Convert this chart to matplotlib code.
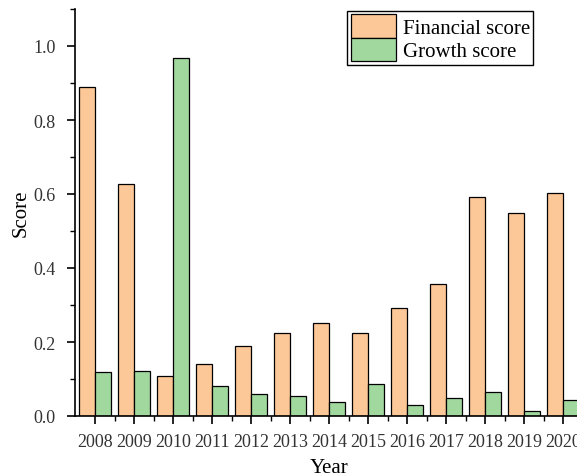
import matplotlib
matplotlib.use("Agg")
import matplotlib.pyplot as plt
from matplotlib.ticker import MultipleLocator
import numpy as np

years = ["2008", "2009", "2010", "2011", "2012", "2013", "2014",
         "2015", "2016", "2017", "2018", "2019", "2020"]
financial = [0.889, 0.626, 0.107, 0.140, 0.190, 0.225, 0.252,
             0.225, 0.292, 0.358, 0.592, 0.550, 0.602]
growth = [0.120, 0.122, 0.967, 0.080, 0.060, 0.053, 0.038,
          0.087, 0.030, 0.050, 0.066, 0.013, 0.044]

plt.rcParams['font.family'] = ['Liberation Serif', 'DejaVu Serif']

W, H = 577, 477
fig = plt.figure(figsize=(W / 100, H / 100), dpi=100)
# axes run past the right edge, as in the original
x0, x1 = 75, 95 + 12.5 * 39
y0, y1 = 417, 10
ax = fig.add_axes([x0 / W, (H - y0) / H, (x1 - x0) / W, (y0 - y1) / H])

x = np.arange(len(years))
w = 0.41
ax.bar(x - w / 2, financial, w, color='#FDC897', edgecolor='black', lw=0.9,
       label='Financial score')
ax.bar(x + w / 2, growth, w, color='#A0D89E', edgecolor='black', lw=0.9,
       label='Growth score')

ax.set_xlim(-20 / 39, 12.5)
ax.set_ylim(0, 1.1)
ax.set_xticks(x)
ax.set_xticklabels(years)
ax.set_xticks(x + 0.5, minor=True)
ax.yaxis.set_major_locator(MultipleLocator(0.2))
ax.yaxis.set_minor_locator(MultipleLocator(0.1))
ax.yaxis.set_major_formatter(plt.FuncFormatter(lambda v, p: "%.1f" % v))

for s in ['top', 'right']:
    ax.spines[s].set_visible(False)
for s in ['left', 'bottom']:
    ax.spines[s].set_linewidth(1.2)

ax.tick_params(which='major', direction='out', length=6, width=1.2,
               labelsize=13, colors='black', labelcolor='#333333', pad=6)
ax.tick_params(axis='y', which='major', pad=8)
ax.tick_params(which='minor', direction='out', length=3.5, width=1.0)

ax.set_xlabel('Year', fontsize=15, labelpad=6)
ax.set_ylabel('Score', fontsize=15, labelpad=2)

ax.legend(loc='upper right', bbox_to_anchor=(533 / W, 1 - 12 / H),
          bbox_transform=fig.transFigure, borderaxespad=0, fontsize=15,
          fancybox=False, edgecolor='black', framealpha=1,
          handlelength=2.2, handleheight=1.35, labelspacing=0.0,
          handletextpad=0.3, borderpad=0.15)

fig.savefig('out.png', dpi=100)
